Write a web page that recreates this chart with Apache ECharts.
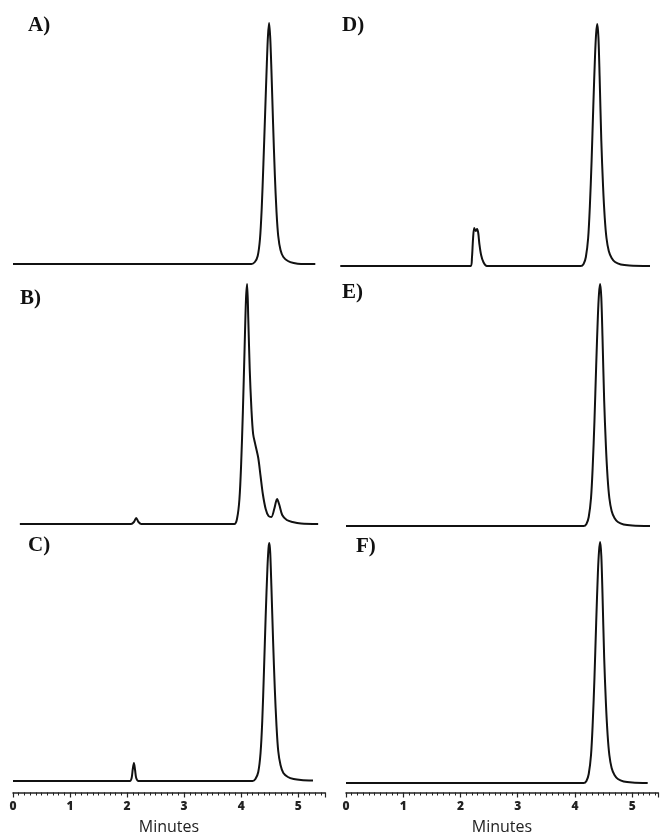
<!DOCTYPE html>
<html>
<head>
<meta charset="utf-8">
<script src="https://cdn.jsdelivr.net/npm/echarts@6/dist/echarts.min.js"></script>
<style>
html,body{margin:0;padding:0;background:#fff;}
#chart{width:660px;height:835px;}
</style>
</head>
<body>
<div id="chart"></div>
<script>
// Panel labels
var panelLabels = ['A)', 'B)', 'C)', 'D)', 'E)', 'F)'];
// Axis tick labels (minutes)
var tickLabels = ['0', '1', '2', '3', '4', '5'];
var axisTitle = 'Minutes';

// Chromatogram traces: [time (min), detector signal (a.u.)]
var traceA = [[0,0],[4.18,0],[4.24,2],[4.29,8],[4.33,25],[4.36,55],[4.39,100],[4.42,150],[4.45,200],[4.47,228],[4.49,241],[4.51,226],[4.53,195],[4.56,140],[4.59,90],[4.62,52],[4.65,28],[4.69,14],[4.74,7],[4.82,3],[4.92,1],[5.05,0],[5.30,0]];
var traceB = [[0.12,0],[2.07,0],[2.12,2],[2.16,6],[2.20,2],[2.25,0],[3.88,0],[3.93,6],[3.97,25],[4.00,60],[4.03,112],[4.06,175],[4.085,225],[4.105,240],[4.125,205],[4.15,155],[4.18,115],[4.21,90],[4.25,79],[4.30,66],[4.34,48],[4.38,30],[4.43,15],[4.48,8],[4.53,7],[4.58,15],[4.63,25],[4.67,19],[4.72,9],[4.80,4],[4.90,2],[5.05,0.5],[5.35,0]];
var traceC = [[0,0],[2.05,0],[2.08,3],[2.10,12],[2.12,18],[2.14,11],[2.16,3],[2.20,0],[4.20,0],[4.25,2],[4.30,9],[4.34,28],[4.37,60],[4.40,110],[4.43,165],[4.46,212],[4.48,233],[4.495,238],[4.51,228],[4.53,195],[4.56,140],[4.59,92],[4.62,55],[4.65,30],[4.69,16],[4.74,8],[4.82,4],[4.92,2],[5.05,1],[5.26,0.5]];
var traceD = [[-0.1,0],[2.18,0],[2.20,8],[2.22,28],[2.24,38],[2.265,35],[2.29,37],[2.31,33],[2.33,22],[2.36,11],[2.40,4],[2.46,0],[4.10,0],[4.15,2],[4.19,9],[4.23,28],[4.26,60],[4.29,105],[4.32,160],[4.35,210],[4.37,233],[4.39,242],[4.41,228],[4.43,190],[4.46,125],[4.49,80],[4.52,48],[4.55,28],[4.59,15],[4.64,8],[4.70,4],[4.80,1.5],[4.95,0.5],[5.31,0]];
var traceE = [[0,0],[4.15,0],[4.20,2],[4.24,9],[4.28,28],[4.31,60],[4.34,105],[4.37,160],[4.40,210],[4.42,233],[4.44,242],[4.46,228],[4.48,190],[4.51,125],[4.54,80],[4.57,48],[4.60,28],[4.64,15],[4.69,8],[4.75,4],[4.85,1.5],[5.00,0.5],[5.31,0]];
var traceF = [[0,0],[4.15,0],[4.20,2],[4.24,9],[4.28,28],[4.31,60],[4.34,105],[4.37,160],[4.40,210],[4.42,232],[4.44,241],[4.46,227],[4.48,190],[4.51,125],[4.54,80],[4.57,48],[4.60,28],[4.64,15],[4.69,8],[4.75,4],[4.85,1.5],[5.00,0.5],[5.27,0]];

var traces = [traceA, traceB, traceC, traceD, traceE, traceF];

// layout
var colLeft = [13, 346];
var colWidth = 312;
var colMax = [5.47, 5.45];
var baselines = [264, 524, 781, 266, 526, 783];
var yMax = 250;
var labelPos = [[28, 27], [20, 300], [28, 547], [342, 27], [342, 294], [356, 548]];

var grids = [], xAxes = [], yAxes = [], series = [], graphics = [];
for (var i = 0; i < 6; i++) {
  var col = i < 3 ? 0 : 1;
  grids.push({left: colLeft[col], width: colWidth, top: baselines[i] - yMax, height: yMax});
  xAxes.push({type: 'value', gridIndex: i, min: 0, max: colMax[col], show: false});
  yAxes.push({type: 'value', gridIndex: i, min: 0, max: yMax, show: false});
  series.push({
    type: 'line', xAxisIndex: i, yAxisIndex: i, data: traces[i],
    showSymbol: false, smooth: 0.3, clip: false,
    lineStyle: {color: '#111', width: 2}
  });
  graphics.push({
    type: 'text', left: labelPos[i][0], top: labelPos[i][1] - 12,
    style: {text: panelLabels[i], font: 'bold 21px "Liberation Serif"', fill: '#111'}
  });
}
// D starts slightly before zero
xAxes[3].min = -0.1;
grids[3].left = colLeft[1] - 0.1 * colWidth / colMax[1];
grids[3].width = colWidth * (colMax[1] + 0.1) / colMax[1];

// visible time axes at the bottom
for (var c = 0; c < 2; c++) {
  var gi = grids.length;
  grids.push({left: colLeft[c], width: colWidth, top: 790, height: 10});
  xAxes.push({
    type: 'value', gridIndex: gi, min: 0, max: colMax[c], interval: 1,
    name: axisTitle, nameLocation: 'middle', nameGap: 27,
    nameTextStyle: {fontFamily: 'Open Sans', fontSize: 16, color: '#222'},
    axisLine: {lineStyle: {color: '#222', width: 1.5}},
    axisTick: {show: true, length: 5, lineStyle: {color: '#222', width: 1.2}},
    minorTick: {show: true, splitNumber: 10, length: 3, lineStyle: {color: '#222', width: 1}},
    splitLine: {show: false},
    axisLabel: {
      margin: 8, fontFamily: 'Open Sans', fontWeight: 900, fontSize: 12, color: '#222',
      formatter: function (v) { var r = Math.round(v); return (Math.abs(v - r) < 1e-6 && tickLabels[r] !== undefined) ? tickLabels[r] : ''; },
      showMaxLabel: false
    }
  });
  yAxes.push({type: 'value', gridIndex: gi, min: 0, max: 1, show: false});
  series.push({type: 'line', xAxisIndex: gi, yAxisIndex: gi, data: [], silent: true});
}

var chart = echarts.init(document.getElementById('chart'), null, {renderer: 'canvas'});
chart.setOption({
  animation: false,
  backgroundColor: '#fff',
  grid: grids,
  xAxis: xAxes,
  yAxis: yAxes,
  series: series,
  graphic: graphics
});
</script>
</body>
</html>
